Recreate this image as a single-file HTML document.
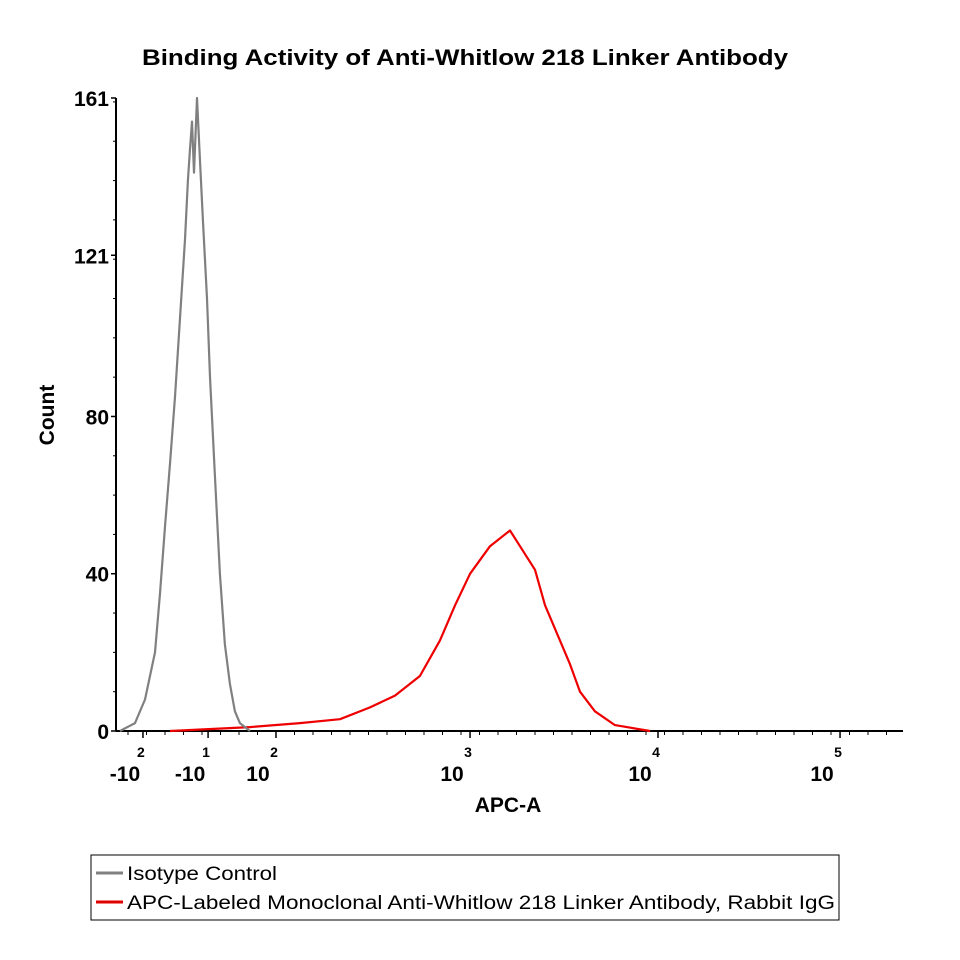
<!DOCTYPE html>
<html><head><meta charset="utf-8"><style>
body{margin:0;background:#fff}
svg{display:block;font-family:"Liberation Sans",sans-serif}
</style></head><body>
<svg width="960" height="960" viewBox="0 0 960 960">
<text x="465" y="65" text-anchor="middle" font-size="22" font-weight="bold" textLength="646" lengthAdjust="spacingAndGlyphs">Binding Activity of Anti-Whitlow 218 Linker Antibody</text>
<text transform="translate(54,415) rotate(-90)" text-anchor="middle" font-size="21" font-weight="bold">Count</text>
<text x="508" y="812" text-anchor="middle" font-size="21" font-weight="bold">APC-A</text>
<g id="axes"></g>
<g id="series"></g>
<rect x="91" y="855" width="748" height="65" fill="none" stroke="#000" stroke-width="1"/>
<g>
<line x1="96" y1="873" x2="123" y2="873" stroke="#808080" stroke-width="3"/>
<text x="127" y="880" font-size="19" textLength="150" lengthAdjust="spacingAndGlyphs">Isotype Control</text></g>
<g>
<line x1="96" y1="902" x2="123" y2="902" stroke="#e00000" stroke-width="3"/>
<text x="127" y="909" font-size="19" textLength="708" lengthAdjust="spacingAndGlyphs">APC-Labeled Monoclonal Anti-Whitlow 218 Linker Antibody, Rabbit IgG</text></g>
</svg>
<script>
const yTicks=[0,40,80,121,161];
const xTickLabels=["-10","-10","10","10","10","10"];
const xTickExps=["2","1","2","3","4","5"];
const xTickPos=[1.216,1.568,1.935,2.984,4.0,4.984];
const grayX=[1.157,1.238,1.292,1.346,1.373,1.400,1.427,1.454,1.481,1.508,1.524,1.535,1.546,1.557,1.573,1.589,1.605,1.627,1.643,1.670,1.697,1.724,1.751,1.778,1.805,1.859];
const grayY=[0,2,8,20,35,52,68,85,105,125,140,148,155,142,161,145,130,110,90,65,40,22,12,5,2,0];
const redX=[1.427,1.859,2.130,2.346,2.508,2.643,2.778,2.886,2.968,3.049,3.157,3.265,3.319,3.400,3.454,3.508,3.589,3.643,3.724,3.832,4.022];
const redY=[0,1,2,3,6,9,14,23,32,40,47,51,47,41,32,26,17,10,5,1.5,0];
const NS="http://www.w3.org/2000/svg";
const X0=116,X1=903,Y0=731,Y1=98;
const xs=d=>461+(d-3)*185;
const ys=v=>Y0-(v/161)*(Y0-Y1);
const axes=document.getElementById('axes');
function mk(tag,attrs,parent){const e=document.createElementNS(NS,tag);for(const k in attrs)e.setAttribute(k,attrs[k]);parent.appendChild(e);return e;}
let a=mk('line',{x1:X0,y1:Y0,x2:X1,y2:Y0,stroke:'#000','stroke-width':2},axes);


a=mk('line',{x1:X0,y1:Y0,x2:X0,y2:Y1,stroke:'#000','stroke-width':2},axes);


yTicks.forEach(v=>{
 mk('line',{x1:X0-5,y1:ys(v),x2:X0,y2:ys(v),stroke:'#000','stroke-width':1.5},axes);
 const t=mk('text',{x:X0-7,y:ys(v)+8,'text-anchor':'end','font-size':21,'font-weight':'bold'},axes);
 t.textContent=v;
 
 
});
for(let v=10;v<161;v+=10){mk('line',{x1:X0-3,y1:ys(v),x2:X0,y2:ys(v),stroke:'#000','stroke-width':1},axes);}
for(let d=1.2;d<5.4;d+=0.1){const x=xs(d);if(x<X0+4||x>X1)continue;mk('line',{x1:x,y1:Y0,x2:x,y2:Y0+4,stroke:'#000','stroke-width':1},axes);}
xTickPos.forEach((d,i)=>{
 const x=xs(d);
 mk('line',{x1:x+12,y1:Y0,x2:x+12,y2:Y0+7,stroke:'#000','stroke-width':1.5},axes);
 const t=mk('text',{x:x-6,y:781,'text-anchor':'middle','font-size':21,'font-weight':'bold'},axes);
 t.textContent=xTickLabels[i];
 
 
 const e=mk('text',{x:x+10,y:757,'text-anchor':'middle','font-size':14,'font-weight':'bold'},axes);
 e.textContent=xTickExps[i];
 
 
});
const ser=document.getElementById('series');
function draw(X,Y,col,name){
 const d=X.map((x,i)=>(i?'L':'M')+xs(x).toFixed(1)+','+ys(Y[i]).toFixed(1)).join('');
 const p=mk('path',{d:d,fill:'none',stroke:col,'stroke-width':2.2,'stroke-linejoin':'round'},ser);
 
 
}
draw(redX,redY,'#ee0000','apc-antibody-histogram');
draw(grayX,grayY,'#808080','isotype-control-histogram');
</script>
</body></html>
